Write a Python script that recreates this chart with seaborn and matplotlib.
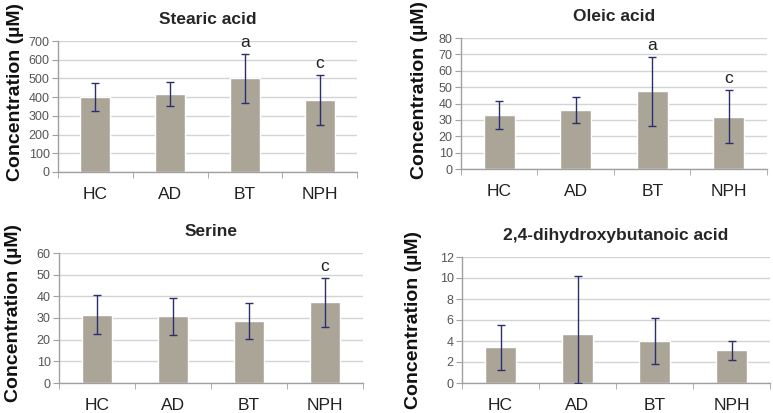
import numpy as np
import pandas as pd
import seaborn as sns
import matplotlib.pyplot as plt

groups = ['HC', 'AD', 'BT', 'NPH']

stearic_mean = [400, 417, 500, 383]
stearic_sd = [75, 66, 133, 134]
oleic_mean = [33, 36, 47.5, 32]
oleic_sd = [8.5, 7.9, 21.2, 16.4]
serine_mean = [31.5, 30.7, 28.6, 37.3]
serine_sd = [9.1, 8.7, 8.2, 11.3]
dhba_mean = [3.4, 4.7, 4.0, 3.1]
dhba_sd = [2.15, 5.5, 2.2, 0.9]

titles = ['Stearic acid', 'Oleic acid', 'Serine', '2,4-dihydroxybutanoic acid']
ymax = [700, 80, 60, 12]
ystep = [100, 10, 10, 2]
letters = [['', '', 'a', 'c'], ['', '', 'a', 'c'], ['', '', '', 'c'], ['', '', '', '']]

sns.set_style('white')
plt.rcParams['font.family'] = ['Liberation Sans', 'DejaVu Sans']

bar_color = '#aba597'
err_color = '#2b2f6e'
grid_color = '#d4d4d4'
axis_color = '#a0a0a0'

fig = plt.figure(figsize=(7.73, 4.13), dpi=100)
W, H = 773, 413
# axes rectangles in pixels: left, top, right, bottom
boxes = [(58, 41, 357, 172), (461, 38, 767, 169), (59, 253, 363, 383), (462, 257, 770, 383)]
ylab_xy = [(16, 92), (420, 90), (14, 313), (413, 320)]

means = [stearic_mean, oleic_mean, serine_mean, dhba_mean]
sds = [stearic_sd, oleic_sd, serine_sd, dhba_sd]

for i in range(4):
    l, t, r, b = boxes[i]
    ax = fig.add_axes([l / W, 1 - b / H, (r - l) / W, (b - t) / H])
    df = pd.DataFrame({'group': groups, 'value': means[i]})
    sns.barplot(data=df, x='group', y='value', color=bar_color, width=0.4,
                saturation=1, errorbar=None, ax=ax, zorder=2)
    pos = np.arange(len(groups))
    lo = np.minimum(np.array(sds[i]), np.array(means[i]))
    ax.errorbar(pos, means[i], yerr=[lo, sds[i]], fmt='none', ecolor=err_color,
                elinewidth=1, capsize=3, capthick=1, zorder=3)
    for k, s in enumerate(letters[i]):
        if s:
            ax.text(pos[k], means[i][k] + sds[i][k] + ymax[i] * 0.03, s,
                    ha='center', va='bottom', fontsize=12.5, color='#222222')

    ax.set_ylim(0, ymax[i])
    ax.set_xlim(-0.5, 3.5)
    ax.set_yticks(np.arange(0, ymax[i] + ystep[i] / 2, ystep[i]))
    ax.yaxis.grid(True, color=grid_color, linewidth=1, zorder=0)
    ax.set_axisbelow(True)
    for side in ['top', 'right']:
        ax.spines[side].set_visible(False)
    for side in ['left', 'bottom']:
        ax.spines[side].set_color(axis_color)
        ax.spines[side].set_linewidth(1)
    ax.tick_params(axis='y', which='major', left=True, length=4, color=axis_color,
                   labelsize=9, labelcolor='#555555', pad=2)
    ax.set_xticks(pos)
    ax.set_xticks(np.arange(-0.5, 4, 1), minor=True)
    ax.tick_params(axis='x', which='major', bottom=False, labelsize=12.5,
                   labelcolor='#222222', pad=7)
    ax.tick_params(axis='x', which='minor', bottom=True, length=4, color=axis_color)
    ax.set_xlabel('')
    ax.set_ylabel('')
    ax.set_title(titles[i], fontsize=12.5, fontweight='bold', pad=12)
    fig.text(ylab_xy[i][0] / W, 1 - ylab_xy[i][1] / H, 'Concentration (µM)',
             rotation=90, ha='center', va='center', fontsize=14, fontweight='bold',
             color='#111111')

fig.savefig('out.png', dpi=100)
